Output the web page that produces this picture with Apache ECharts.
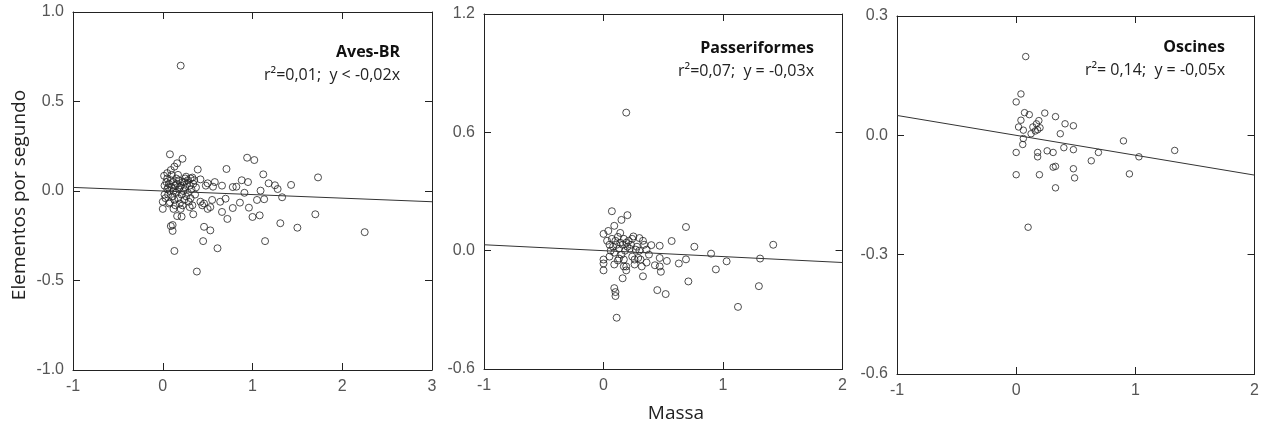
<!DOCTYPE html>
<html>
<head>
<meta charset="utf-8">
<script src="https://cdn.jsdelivr.net/npm/echarts@6/dist/echarts.min.js"></script>
<style>
  html, body { margin: 0; padding: 0; background: #fff; }
  .panel { position: absolute; top: 0; height: 430px; }
  #p0 { left: 0; width: 440px; }
  #p1 { left: 440px; width: 410px; }
  #p2 { left: 850px; width: 412px; }
</style>
</head>
<body>
<div class="panel" id="p0"></div>
<div class="panel" id="p1"></div>
<div class="panel" id="p2"></div>
<script>
// painel 1 - Aves-BR
const avesBR = [
  [0.20, 0.70],
  [0.08, 0.205], [0.22, 0.18], [0.16, 0.155], [0.13, 0.136], [0.09, 0.117], [0.05, 0.10], [0.015, 0.085],
  [0.39, 0.12], [0.71, 0.123], [0.94, 0.186], [1.02, 0.173], [1.12, 0.093], [1.73, 0.076],
  [1.43, 0.034], [1.18, 0.043], [1.25, 0.032], [1.28, 0.011],
  [0.88, 0.06], [0.95, 0.05], [0.78, 0.022], [0.82, 0.024], [0.66, 0.03], [0.56, 0.024], [0.58, 0.05],
  [0.48, 0.03], [0.42, 0.065], [0.50, 0.043], [0.26, 0.08], [0.31, 0.07], [0.35, 0.06],
  [1.09, 0.002], [0.91, -0.01], [1.33, -0.035], [1.13, -0.046], [1.05, -0.05], [0.70, -0.043],
  [0.86, -0.065], [0.64, -0.06], [0.96, -0.093], [0.78, -0.095], [0.66, -0.117], [0.72, -0.156],
  [1.00, -0.145], [1.08, -0.136], [1.31, -0.18], [1.70, -0.13], [1.50, -0.205], [2.25, -0.23], [1.14, -0.28],
  [0.55, -0.05], [0.53, -0.09], [0.50, -0.10], [0.46, -0.07], [0.42, -0.06], [0.44, -0.08],
  [0.46, -0.20], [0.53, -0.22], [0.45, -0.28], [0.61, -0.32], [0.34, -0.13], [0.38, -0.45],
  [0.13, -0.335], [0.09, -0.196], [0.11, -0.223], [0.11, -0.19], [0.16, -0.14], [0.21, -0.143],
  [0.20, -0.10], [0.0, -0.10], [0.0, -0.06], [0.08, -0.063],
  [0.02, 0.03], [0.04, 0.05], [0.05, 0.01], [0.06, -0.02], [0.07, 0.04], [0.08, 0.0], [0.09, 0.06],
  [0.10, 0.02], [0.11, -0.03], [0.12, 0.05], [0.12, 0.0], [0.13, -0.05], [0.14, 0.03], [0.15, 0.07],
  [0.15, -0.01], [0.16, 0.04], [0.17, -0.04], [0.18, 0.01], [0.18, 0.06], [0.19, -0.07], [0.20, 0.03],
  [0.21, -0.02], [0.22, 0.05], [0.23, 0.0], [0.24, -0.05], [0.25, 0.02], [0.26, -0.03], [0.27, 0.04],
  [0.28, -0.01], [0.29, -0.06], [0.30, 0.03], [0.31, -0.04], [0.32, 0.01], [0.33, -0.08], [0.34, 0.04],
  [0.03, -0.04], [0.05, 0.07], [0.07, -0.07], [0.10, 0.09], [0.14, -0.08], [0.17, 0.09], [0.22, -0.08],
  [0.25, 0.07], [0.02, -0.02], [0.06, 0.02], [0.19, 0.02], [0.24, 0.05], [0.28, 0.06], [0.12, -0.1],
  [0.30, -0.09], [0.36, -0.02], [0.37, 0.02], [0.33, 0.075]
]
// painel 2 - Passeriformes
const passeriformes = [
  [0.19, 0.70],
  [0.07, 0.20], [0.20, 0.18], [0.15, 0.156], [0.09, 0.126], [0.04, 0.10], [0.0, 0.085],
  [0.69, 0.12], [0.57, 0.049], [0.47, 0.025], [0.40, 0.028], [0.76, 0.02], [0.90, -0.015],
  [1.42, 0.03], [1.31, -0.04], [1.03, -0.054], [0.94, -0.095], [0.69, -0.044], [0.63, -0.065],
  [0.53, -0.052], [0.47, -0.037], [0.43, -0.074], [0.48, -0.107], [0.47, -0.08], [0.33, -0.13],
  [0.32, -0.08], [0.71, -0.156], [1.30, -0.18], [1.125, -0.285], [0.45, -0.20], [0.52, -0.22],
  [0.16, -0.14], [0.09, -0.19], [0.10, -0.21], [0.10, -0.23], [0.11, -0.34],
  [0.0, -0.1], [0.0, -0.065], [0.0, -0.045], [0.09, -0.07], [0.19, -0.1], [0.19, -0.08],
  [0.13, -0.04], [0.17, -0.045], [0.29, -0.037], [0.31, -0.045], [0.26, -0.045],
  [0.30, 0.0], [0.27, 0.005], [0.24, -0.03], [0.36, 0.005], [0.30, 0.064], [0.33, 0.05], [0.25, 0.072],
  [0.03, 0.05], [0.05, 0.03], [0.06, 0.0], [0.07, 0.06], [0.08, 0.02], [0.09, -0.01], [0.10, 0.05],
  [0.11, 0.03], [0.12, 0.07], [0.13, 0.01], [0.14, 0.04], [0.15, -0.02], [0.16, 0.03], [0.17, 0.06],
  [0.18, 0.0], [0.19, 0.04], [0.20, 0.02], [0.21, 0.05], [0.22, 0.01], [0.23, 0.03], [0.24, 0.06],
  [0.05, -0.03], [0.12, -0.05], [0.28, 0.02], [0.34, 0.03], [0.38, -0.02], [0.36, -0.06],
  [0.26, -0.07], [0.14, 0.09], [0.17, -0.08]
]
// painel 3 - Oscines
const oscines = [
  [0.08, 0.198], [0.04, 0.104], [0.0, 0.084], [0.07, 0.057], [0.11, 0.052], [0.24, 0.056],
  [0.33, 0.047], [0.04, 0.038], [0.02, 0.021], [0.06, 0.013], [0.14, 0.021], [0.17, 0.029],
  [0.19, 0.037], [0.20, 0.019], [0.18, 0.014], [0.16, 0.011], [0.125, 0.004], [0.41, 0.029],
  [0.48, 0.024], [0.37, 0.004], [0.06, -0.008], [0.055, -0.023], [0.0, -0.043], [0.18, -0.043],
  [0.18, -0.054], [0.26, -0.039], [0.31, -0.043], [0.40, -0.031], [0.48, -0.036], [0.69, -0.043],
  [0.90, -0.014], [1.03, -0.054], [1.33, -0.038], [0.63, -0.064], [0.31, -0.08], [0.33, -0.078],
  [0.48, -0.084], [0.49, -0.107], [0.195, -0.099], [0.0, -0.099], [0.95, -0.097], [0.33, -0.132],
  [0.10, -0.231]
]
// retas de regressao (extremos)
const fitAves = [[-1, 0.02], [3, -0.06]]
const fitPasser = [[-1, 0.03], [2, -0.06]]
const fitOscines = [[-1, 0.05], [2, -0.1]]

const panelNames = ['Aves-BR', 'Passeriformes', 'Oscines']
const panelStats = ['r²=0,01;  y < -0,02x', 'r²=0,07;  y = -0,03x', 'r²= 0,14;  y = -0,05x']
const xRanges = [[-1, 3], [-1, 2], [-1, 2]]
const yRanges = [[-1, 1, 0.5], [-0.6, 1.2, 0.6], [-0.6, 0.3, 0.3]]

// um grafico por painel (posicoes locais de cada div)
const grids = [
  { left: 73, top: 12, width: 359, height: 358 },
  { left: 44, top: 14, width: 359, height: 355 },
  { left: 47, top: 16, width: 359, height: 358 }
]
const textRight = [400, 374, 375]
const textTop = [44, 40, 39]
const pointSets = [avesBR, passeriformes, oscines]
const fits = [fitAves, fitPasser, fitOscines]
const sizes = [7, 7, 6.5]
const lc = '#222'

function buildOption (i) {
  let xAxis = []
  let yAxis = []
  ;['bottom', 'top'].forEach(pos => {
    xAxis.push({
      type: 'value',
      position: pos,
      min: xRanges[i][0],
      max: xRanges[i][1],
      interval: 1,
      splitLine: { show: false },
      axisLine: { show: true, onZero: false, lineStyle: { color: lc, width: 1 } },
      axisTick: { show: true, inside: true, length: 7, lineStyle: { color: lc, width: 1 } },
      axisLabel: { show: pos === 'bottom', margin: 9, color: '#555', fontSize: 16, fontFamily: 'Liberation Sans' }
    })
  })
  ;['left', 'right'].forEach(pos => {
    yAxis.push({
      type: 'value',
      position: pos,
      min: yRanges[i][0],
      max: yRanges[i][1],
      interval: yRanges[i][2],
      splitLine: { show: false },
      axisLine: { show: true, onZero: false, lineStyle: { color: lc, width: 1 } },
      axisTick: { show: true, inside: true, length: 7, lineStyle: { color: lc, width: 1 } },
      axisLabel: {
        show: pos === 'left',
        margin: 9,
        color: '#555',
        fontSize: 16,
        fontFamily: 'Liberation Sans',
        formatter: v => v.toFixed(1)
      }
    })
  })
  let graphic = [{
    type: 'text',
    x: textRight[i],
    y: textTop[i],
    style: { text: panelNames[i], textAlign: 'right', fill: '#111', font: 'bold 16px Open Sans' }
  }, {
    type: 'text',
    x: textRight[i],
    y: textTop[i] + 23,
    style: { text: panelStats[i], textAlign: 'right', fill: '#222', font: '16px Open Sans' }
  }]
  if (i === 0) {
    graphic.push({
      type: 'text',
      x: 10,
      y: 195,
      rotation: Math.PI / 2,
      style: { text: 'Elementos por segundo', textAlign: 'center', textVerticalAlign: 'top', fill: '#222', font: '19px Open Sans' }
    })
  }
  if (i === 1) {
    graphic.push({
      type: 'text',
      x: 236,
      y: 404,
      style: { text: 'Massa', textAlign: 'center', fill: '#222', font: '19px Open Sans' }
    })
  }
  return {
    animation: false,
    grid: grids[i],
    xAxis: xAxis,
    yAxis: yAxis,
    series: [{
      type: 'line',
      xAxisIndex: 0,
      yAxisIndex: 0,
      data: fits[i],
      symbol: 'none',
      silent: true,
      lineStyle: { color: '#333', width: 1 }
    }, {
      type: 'scatter',
      xAxisIndex: 0,
      yAxisIndex: 0,
      data: pointSets[i],
      symbol: 'circle',
      symbolSize: sizes[i],
      itemStyle: { color: 'rgba(255,255,255,0)', borderColor: '#222', borderWidth: 1 }
    }],
    graphic: graphic
  }
}

for (let i = 0; i < 3; i++) {
  const myChart = echarts.init(document.getElementById('p' + i))
  myChart.setOption(buildOption(i))
}
</script>
</body>
</html>
